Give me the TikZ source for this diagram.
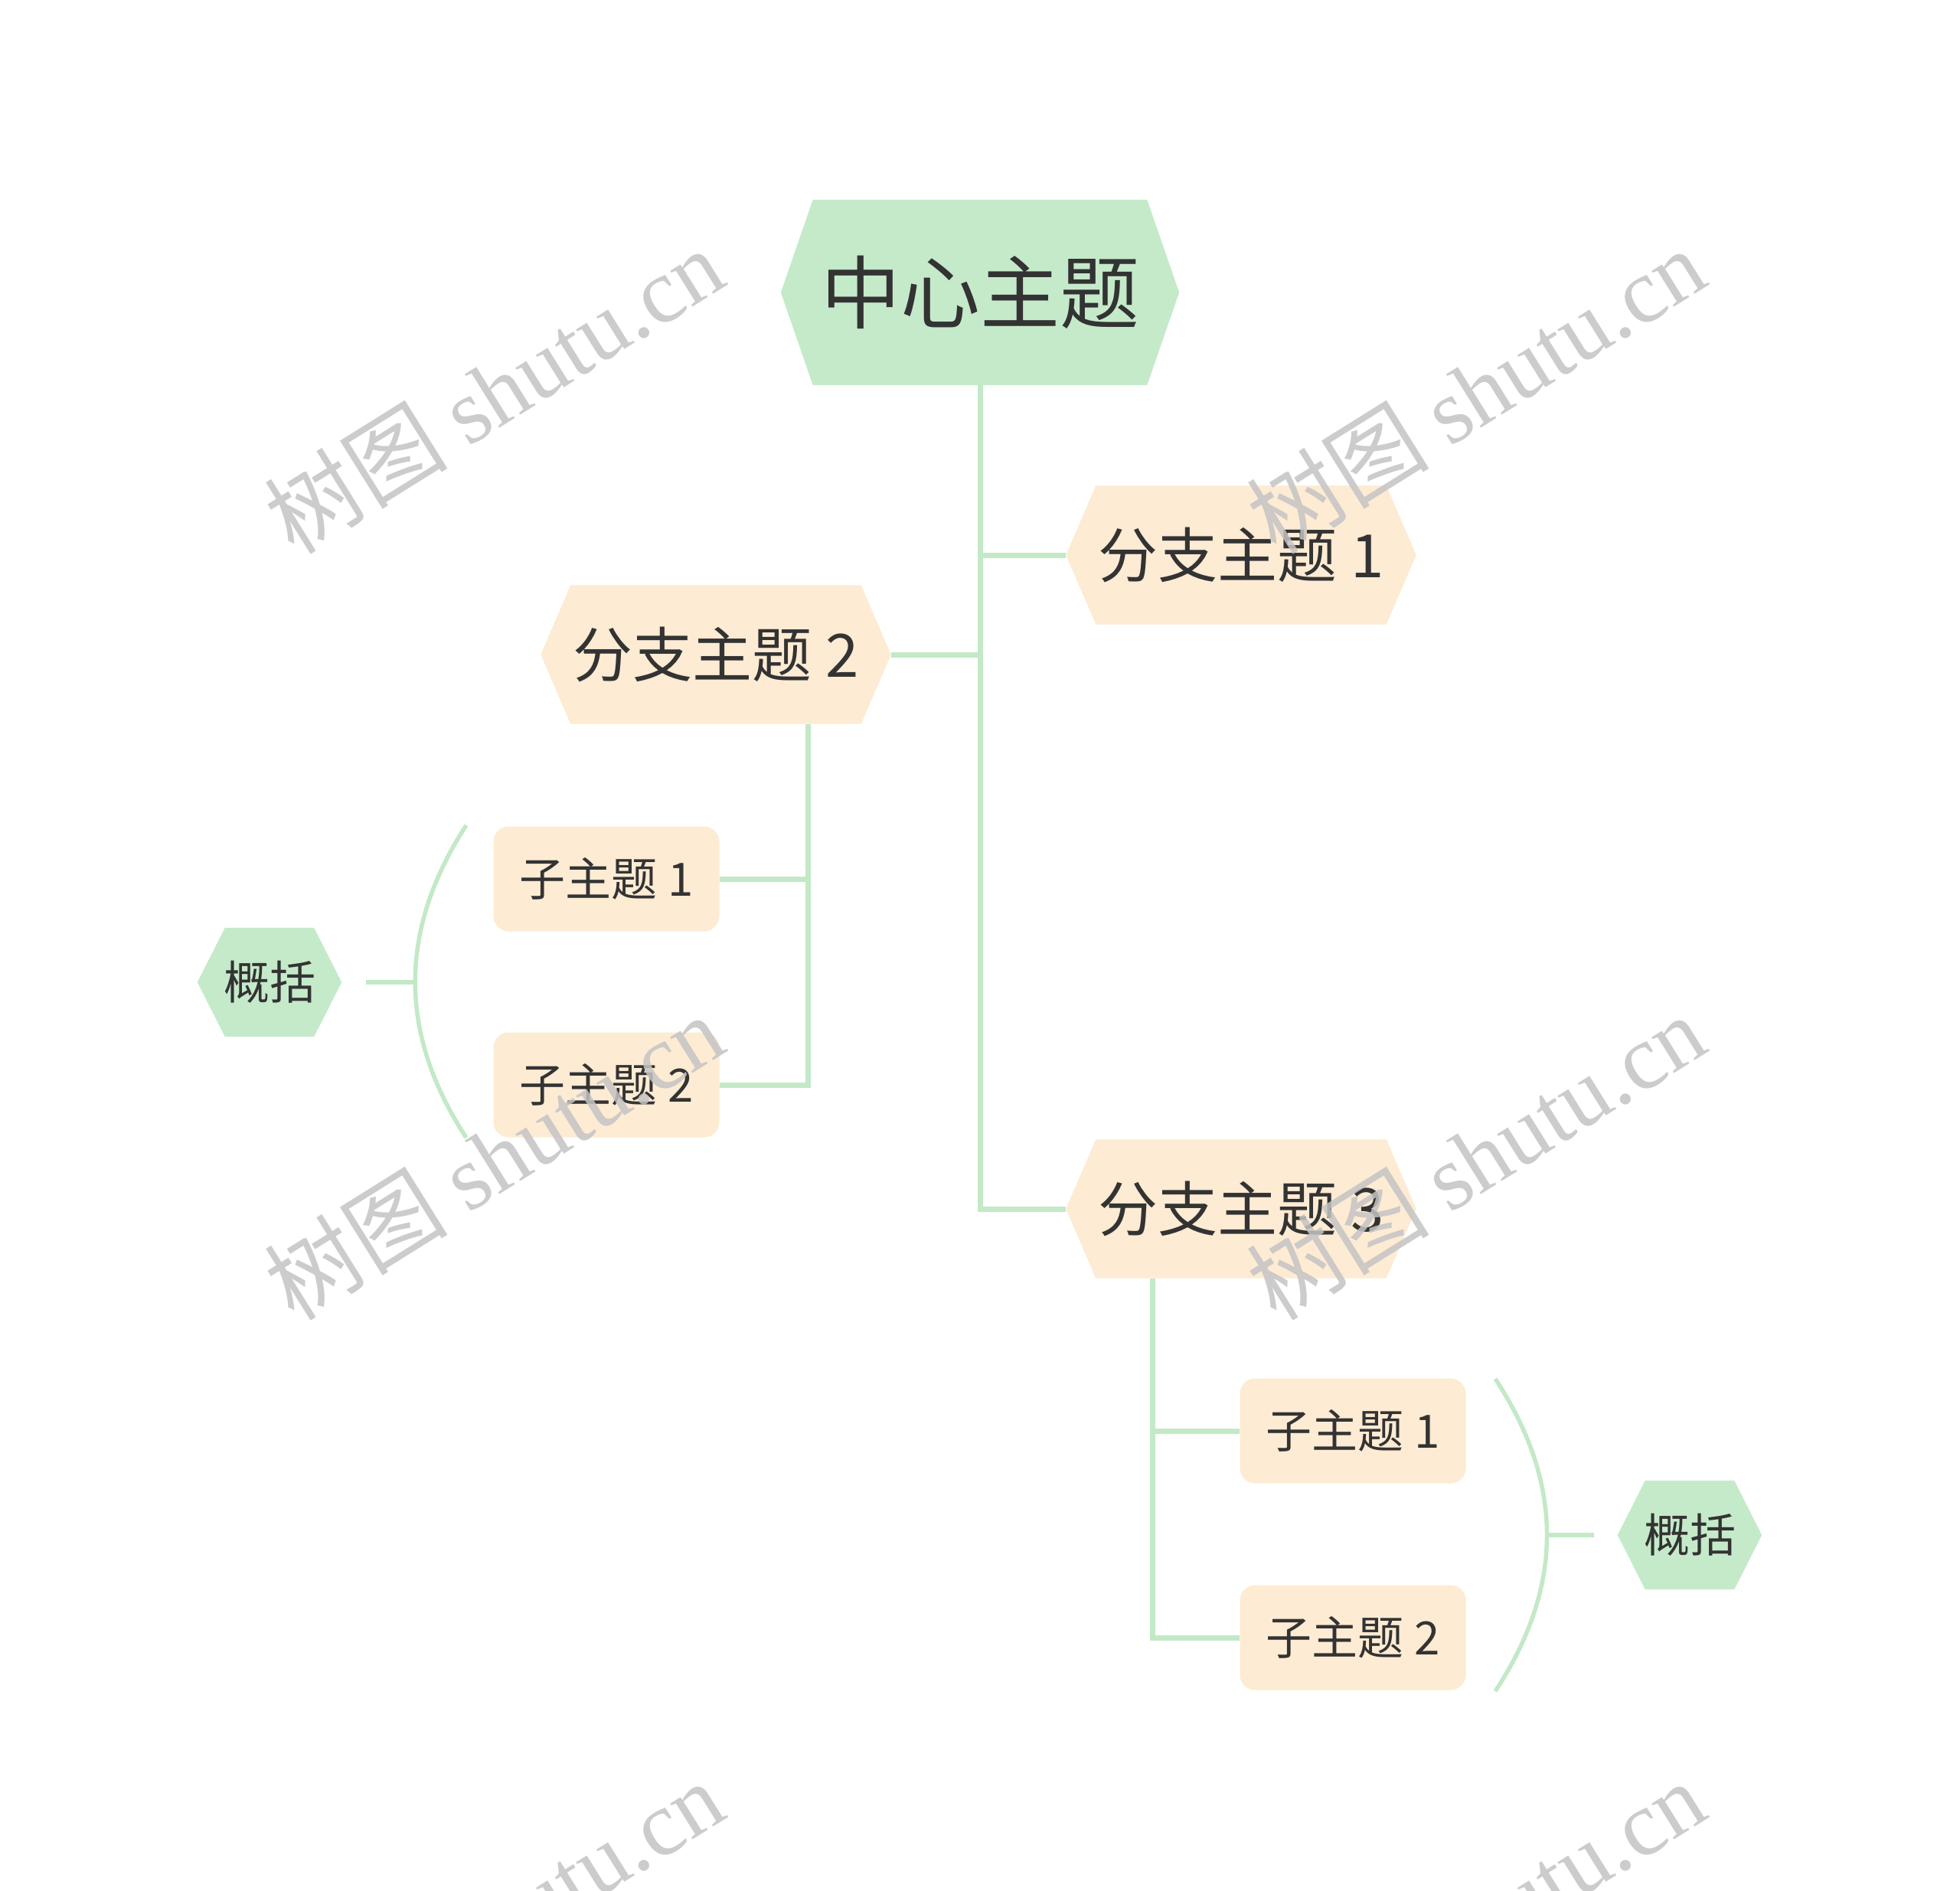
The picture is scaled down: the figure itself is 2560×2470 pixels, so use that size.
\documentclass[tikz,border=0pt]{standalone}
\usepackage{fontspec}
\setmainfont{Noto Sans CJK SC}
\newfontfamily\wmcjk{Noto Sans CJK SC}
\newfontfamily\wmlat{Liberation Serif}
\usetikzlibrary{backgrounds}
\definecolor{hexgreen}{HTML}{C5EACA}
\definecolor{peach}{HTML}{FDEBD3}
\definecolor{linegreen}{HTML}{C3E9C7}
\definecolor{txt}{HTML}{333333}
\definecolor{wmgray}{HTML}{C4C4C4}
\newcommand\hexbg[3]{%
  \begin{scope}[on background layer]
    \fill[#3] (#1.west) -- ([xshift=#2]#1.north west) -- ([xshift=-#2]#1.north east)
      -- (#1.east) -- ([xshift=-#2]#1.south east) -- ([xshift=#2]#1.south west) -- cycle;
  \end{scope}}
\tikzset{
  basenode/.style={shape=rectangle, inner sep=0pt, text=txt, align=center},
  centralnode/.style={basenode, minimum width=520pt, minimum height=242pt,
    font=\fontsize{104}{110}\selectfont},
  branchnode/.style={basenode, minimum width=457pt, minimum height=181pt,
    font=\fontsize{78}{84}\selectfont},
  subnode/.style={basenode, fill=peach, rounded corners=20pt, minimum width=295pt,
    minimum height=137pt, font=\fontsize{60}{66}\selectfont},
  sumnode/.style={basenode, minimum width=188pt, minimum height=142pt,
    font=\fontsize{60}{66}\selectfont},
  conn/.style={draw=linegreen, line width=7pt},
  bracketline/.style={draw=linegreen, line width=5.5pt},
  wmtext/.style={text=wmgray, text opacity=0.85, inner sep=0pt, rotate=32,
    font=\fontsize{120}{130}\selectfont}
}
\begin{document}
\begin{tikzpicture}[x=1pt,y=-1pt]
\useasboundingbox (0,0) rectangle (2560,2470);
\begin{scope}[on background layer]
\fill[white] (0,0) rectangle (2560,2470);
\end{scope}

% nodes
\node[centralnode] (c) at (1280,382) {中心主题};
\hexbg{c}{42pt}{hexgreen}
\node[branchnode] (b1) at (1621,725) {分支主题 1};
\hexbg{b1}{39pt}{peach}
\node[branchnode] (b2) at (935,855) {分支主题 2};
\hexbg{b2}{39pt}{peach}
\node[branchnode] (b3) at (1621,1579) {分支主题 3};
\hexbg{b3}{39pt}{peach}

\node[subnode] (s21) at (792,1148) {子主题 1};
\node[subnode] (s22) at (792,1417) {子主题 2};
\node[subnode] (s31) at (1767,1869) {子主题 1};
\node[subnode] (s32) at (1767,2139) {子主题 2};

\node[sumnode] (g1) at (352,1283) {概括};
\hexbg{g1}{36pt}{hexgreen}
\node[sumnode] (g2) at (2207,2005) {概括};
\hexbg{g2}{36pt}{hexgreen}

% connectors
\draw[conn] (c.south) |- (b3.west);
\draw[conn] (b1.west) -- (b1.west -| c.south);
\draw[conn] (b2.east) -- (b2.east -| c.south);

\coordinate (b2s) at ([xshift=120pt]b2.south);
\draw[conn] (b2s) |- (s21.east);
\draw[conn] (b2s) |- (s22.east);

\coordinate (b3s) at ([xshift=-116pt]b3.south);
\draw[conn] (b3s) |- (s31.west);
\draw[conn] (b3s) |- (s32.west);

% summary brackets
\coordinate (l1top) at (609,1078);
\coordinate (l1bot) at (609,1486);
\coordinate (l1mid) at (542,1283);
\coordinate (l1tick) at (478,1283);
\draw[bracketline] (l1top) .. controls (520,1215) and (520,1350) .. (l1bot);
\draw[conn, line width=6pt] (l1mid) -- (l1tick);

\coordinate (r1top) at (1953,1801);
\coordinate (r1bot) at (1953,2209);
\coordinate (r1mid) at (2020,2005);
\coordinate (r1tick) at (2082,2005);
\draw[bracketline] (r1top) .. controls (2043,1938) and (2043,2072) .. (r1bot);
\draw[conn, line width=6pt] (r1mid) -- (r1tick);

% watermarks
\begin{scope}
\clip (0,0) rectangle (2560,2470);
\foreach \wx/\wy [count=\i] in {645/510, 1927/510, 645/1511, 1927/1511, 645/2512, 1927/2512}{
  \node[wmtext] (wm\i) at (\wx,\wy) {{\wmcjk 树图} {\wmlat shutu.cn}};
}
\end{scope}
\end{tikzpicture}
\end{document}
